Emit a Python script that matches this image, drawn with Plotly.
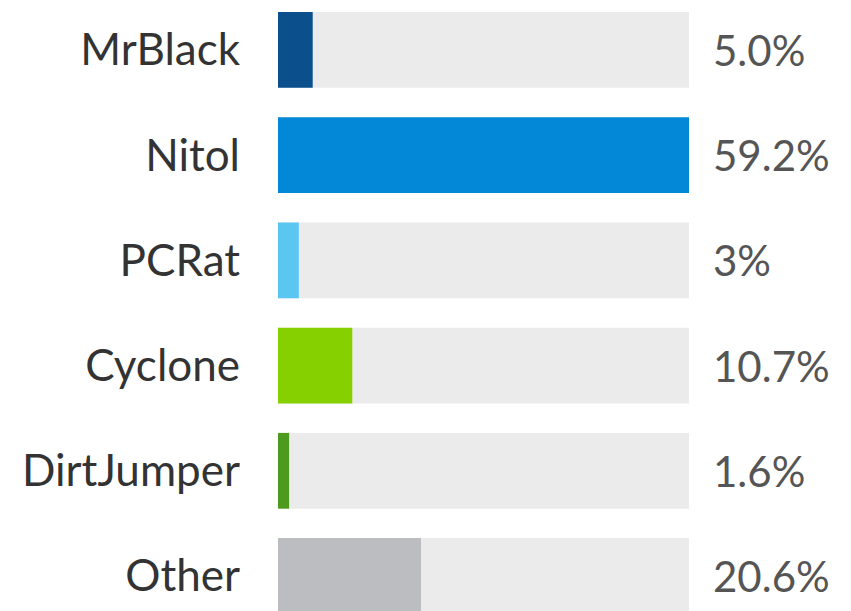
import plotly.graph_objects as go

categories = ["MrBlack", "Nitol", "PCRat", "Cyclone", "DirtJumper", "Other"]
values = [5.0, 59.2, 3.0, 10.7, 1.6, 20.6]
value_labels = ["5.0%", "59.2%", "3%", "10.7%", "1.6%", "20.6%"]
colors = ["#0b4f8c", "#0288d6", "#5cc6f2", "#86d000", "#4c9a1e", "#bbbdc0"]
track_max = 59.2

fig = go.Figure()
fig.add_trace(go.Bar(
    y=categories, x=[track_max] * len(categories), orientation="h",
    marker=dict(color="#ebebeb", line=dict(width=0)), hoverinfo="skip", showlegend=False,
))
fig.add_trace(go.Bar(
    y=categories, x=values, orientation="h",
    marker=dict(color=colors, line=dict(width=0)), showlegend=False,
))

for c, lab in zip(categories, value_labels):
    fig.add_annotation(x=1, xref="paper", y=c, yref="y", text=lab, showarrow=False,
                       xanchor="left", xshift=22, font=dict(family="Lato", size=42, color="#555555"))

fig.update_layout(
    width=851, height=611,
    margin=dict(l=278, r=162, t=0, b=0),
    paper_bgcolor="white", plot_bgcolor="white",
    barmode="overlay", bargap=0.28,
    font=dict(family="Lato", size=44, color="#333333"),
    xaxis=dict(range=[0, track_max], visible=False, fixedrange=True),
    yaxis=dict(range=[5.333, -0.475], showgrid=False, zeroline=False, showline=False,
               ticks="", ticklabelstandoff=37, tickfont=dict(family="Lato", size=44, color="#333333")),
)

fig.write_html("out.html")
